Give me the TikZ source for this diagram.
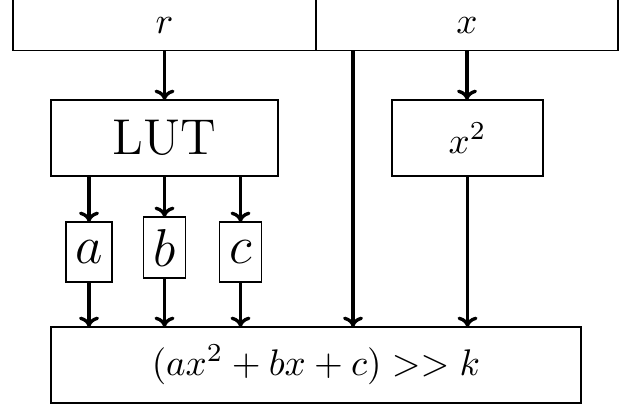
\documentclass[tikz,border=0pt]{standalone}
\usetikzlibrary{arrows.meta}
\begin{document}
\begin{tikzpicture}[x=0.27pt,y=-0.27pt,
  box/.style={draw,line width=0.3pt,inner sep=0pt,outer sep=0pt},
  big/.style={font=\fontsize{13.6}{16}\selectfont},
  arr/.style={line width=0.9pt,-{To[length=2.8pt,width=5.4pt]}}]
\useasboundingbox (0,0) rectangle (625,404);
% top row
\node[box,minimum width=81.81pt,minimum height=13.9pt] (rbox) at (164.5,25.2) {$r$};
\node[box,minimum width=81.54pt,minimum height=13.9pt] (xbox) at (467,25.2) {$x$};
% second row
\node[box,big,minimum width=61.29pt,minimum height=20.52pt] (lut) at (164.5,138) {LUT};
\node[box,minimum width=40.77pt,minimum height=20.52pt] (sq) at (467.5,138) {$x^2$};
% coefficient boxes
\node[box,big,minimum width=12.42pt,minimum height=16.2pt] (a) at (89,252) {$a$};
\node[box,big,minimum width=11.34pt,minimum height=16.47pt] (b) at (164.5,247.5) {$b$};
\node[box,big,minimum width=11.34pt,minimum height=16.2pt] (c) at (240.5,252) {$c$};
% output box
\node[box,minimum width=143.1pt,minimum height=20.52pt] (out) at (316,365) {$(ax^2+bx+c) >> k$};
% connectors
\coordinate (p) at (353,0);
\draw[arr] (rbox.south) -- (lut.north);
\draw[arr] (xbox.south) -- (xbox.south |- sq.north);
\draw[arr] (p |- xbox.south) -- (p |- out.north);
\draw[arr] (a.north |- lut.south) -- (a.north);
\draw[arr] (b.north |- lut.south) -- (b.north);
\draw[arr] (c.north |- lut.south) -- (c.north);
\draw[arr] (a.south) -- (a.south |- out.north);
\draw[arr] (b.south) -- (b.south |- out.north);
\draw[arr] (c.south) -- (c.south |- out.north);
\draw[arr] (sq.south) -- (sq.south |- out.north);
\end{tikzpicture}
\end{document}
